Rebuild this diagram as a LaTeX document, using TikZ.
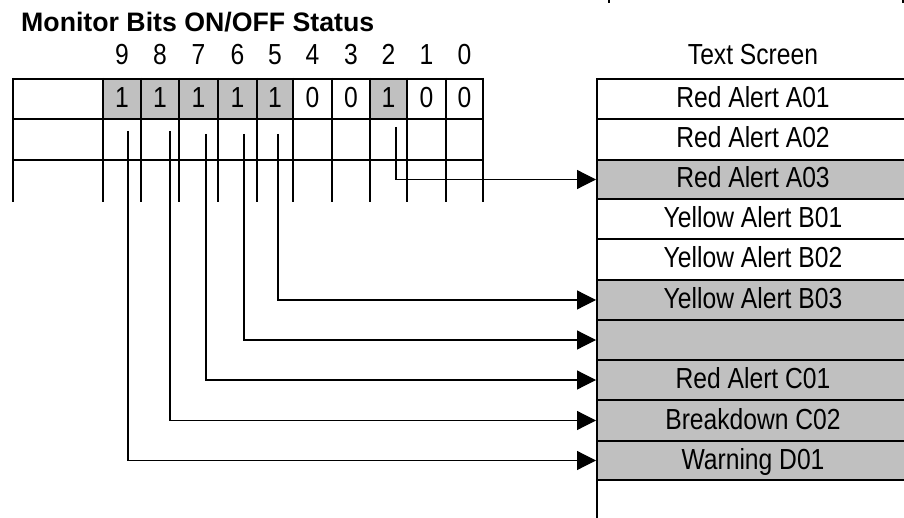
\documentclass[tikz,border=0pt]{standalone}
\usepackage{fontspec}
\setmainfont{Liberation Sans}
\newfontfamily\narrowfont[FakeStretch=0.85]{Liberation Sans}
\usetikzlibrary{arrows.meta}
\definecolor{cellgray}{RGB}{192,192,192}
\tikzset{
  gridline/.style={line width=2pt, black},
  bitcell/.style={inner sep=0pt, minimum height=40pt, text height=21pt, text depth=4pt, font=\narrowfont\fontsize{29}{29}\selectfont},
  digit/.style={inner sep=0pt, anchor=base, font=\narrowfont\fontsize{29}{29}\selectfont},
  rowbox/.style={draw, line width=2pt, inner sep=0pt, minimum width=312pt, text height=21pt, text depth=4pt, font=\narrowfont\fontsize{29}{29}\selectfont},
  conn/.style={line width=1.2pt, -{Triangle[length=19pt,width=19pt]}},
}
\begin{document}
\begin{tikzpicture}[x=1pt,y=-1pt]
\useasboundingbox (0,0) rectangle (904,518);
% title
\node[anchor=base west, inner sep=0pt, font=\bfseries\fontsize{26.7}{26.7}\selectfont] (title) at (21,32) {Monitor Bits ON/OFF Status};
% bit cells (row 1)
\node[bitcell, minimum width=38pt, fill=cellgray] (b9) at (122,99) {1};
\node[bitcell, minimum width=38pt, fill=cellgray] (b8) at (160,99) {1};
\node[bitcell, minimum width=39pt, fill=cellgray] (b7) at (198.5,99) {1};
\node[bitcell, minimum width=39pt, fill=cellgray] (b6) at (237.5,99) {1};
\node[bitcell, minimum width=36pt, fill=cellgray] (b5) at (275,99) {1};
\node[bitcell, minimum width=39pt] (b4) at (312.5,99) {0};
\node[bitcell, minimum width=38pt] (b3) at (351,99) {0};
\node[bitcell, minimum width=37pt, fill=cellgray] (b2) at (388.5,99) {1};
\node[bitcell, minimum width=39pt] (b1) at (426.5,99) {0};
\node[bitcell, minimum width=37pt] (b0) at (464.5,99) {0};
% bit numbers
\node[digit] (d9) at (122,65) {9};
\node[digit] (d8) at (160,65) {8};
\node[digit] (d7) at (198.5,65) {7};
\node[digit] (d6) at (237.5,65) {6};
\node[digit] (d5) at (275,65) {5};
\node[digit] (d4) at (312.5,65) {4};
\node[digit] (d3) at (351,65) {3};
\node[digit] (d2) at (388.5,65) {2};
\node[digit] (d1) at (426.5,65) {1};
\node[digit] (d0) at (464.5,65) {0};
% grid
\foreach \yy in {79,119,160} \draw[gridline] (12,\yy) -- (484,\yy);
\foreach \xx in {13,103,141,179,218,257,293,332,370,407,446,483} \draw[gridline] (\xx,78) -- (\xx,202);
% text screen
\node[inner sep=0pt, anchor=base, font=\narrowfont\fontsize{29}{29}\selectfont] (ts) at (753,65) {Text Screen};
\node[rowbox, minimum height=40pt] (r1) at (753,99) {Red Alert A01};
\node[rowbox, minimum height=41pt] (r2) at (753,139.5) {Red Alert A02};
\node[rowbox, minimum height=39pt, fill=cellgray] (r3) at (753,179.5) {Red Alert A03};
\node[rowbox, minimum height=40pt] (r4) at (753,219) {Yellow Alert B01};
\node[rowbox, minimum height=41pt] (r5) at (753,259.5) {Yellow Alert B02};
\node[rowbox, minimum height=40pt, fill=cellgray] (r6) at (753,300) {Yellow Alert B03};
\node[rowbox, minimum height=40pt, fill=cellgray] (r7) at (753,340) {};
\node[rowbox, minimum height=40pt, fill=cellgray] (r8) at (753,380) {Red Alert C01};
\node[rowbox, minimum height=41pt, fill=cellgray] (r9) at (753,420.5) {Breakdown C02};
\node[rowbox, minimum height=39pt, fill=cellgray] (r10) at (753,460.5) {Warning D01};
\draw[gridline] (597,79) -- (597,520);
% small marks at top
\draw[gridline] (609,-1) -- (609,3);
\draw[gridline] (903,-1) -- (903,3);
% connector starts
\coordinate (s9) at (128,131);
\coordinate (s8) at (170,131);
\coordinate (s7) at (206,134);
\coordinate (s6) at (244,134);
\coordinate (s5) at (278,134);
\coordinate (s2) at (396,127);
\draw[conn] (s9) |- (r10.west);
\draw[conn] (s8) |- (r9.west);
\draw[conn] (s7) |- (r8.west);
\draw[conn] (s6) |- (r7.west);
\draw[conn] (s5) |- (r6.west);
\draw[conn] (s2) |- (r3.west);
\end{tikzpicture}
\end{document}
